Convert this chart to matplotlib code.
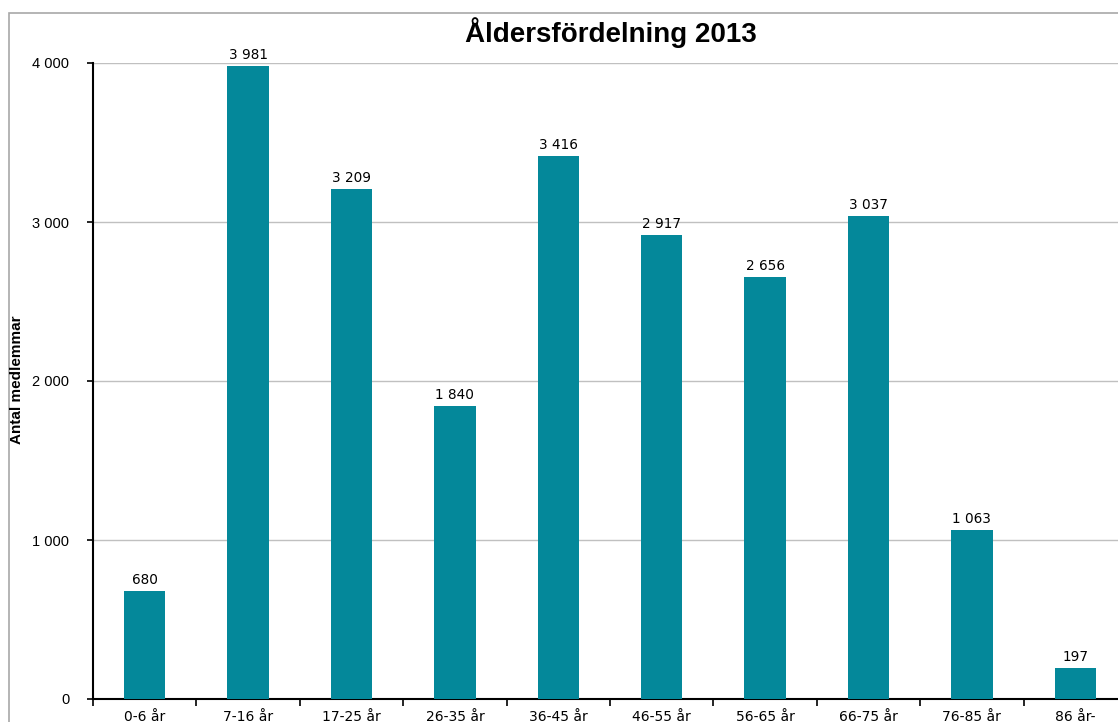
import matplotlib
matplotlib.use("Agg")
import matplotlib.pyplot as plt
from matplotlib.patches import Rectangle
from matplotlib.ticker import FixedLocator, FuncFormatter

categories = ["0-6 år", "7-16 år", "17-25 år", "26-35 år", "36-45 år",
              "46-55 år", "56-65 år", "66-75 år", "76-85 år", "86 år-"]
values = [680, 3981, 3209, 1840, 3416, 2917, 2656, 3037, 1063, 197]
yticks = [0, 1000, 2000, 3000, 4000]

def fmt(v):
    return f"{int(v):,}".replace(",", " ")

W, H = 1118, 722
fig = plt.figure(figsize=(W / 100, H / 100), dpi=100)
fig.patches.append(Rectangle((9 / W, -0.1), 1.2, 1 - 13 / H + 0.1, transform=fig.transFigure,
                             fill=False, edgecolor="#a8a8a8", linewidth=1.2))

ax = fig.add_axes([93 / W, 1 - 699 / H, (1127 - 93) / W, (699 - 63) / H])
x = list(range(len(categories)))
ax.bar(x, values, width=0.4, color="#04889a", zorder=3)
ax.set_xlim(-0.5, len(categories) - 0.5)
ax.set_ylim(0, 4000)

ax.yaxis.set_major_locator(FixedLocator(yticks))
ax.yaxis.set_major_formatter(FuncFormatter(lambda v, p: fmt(v)))
ax.grid(axis="y", color="#c0c0c0", linewidth=1, zorder=0)
ax.tick_params(axis="y", direction="out", length=4, width=1.2, pad=13,
               labelsize=10.5, labelfontfamily="Liberation Sans")

ax.xaxis.set_major_locator(FixedLocator([i - 0.5 for i in range(0, len(categories) + 1)]))
ax.xaxis.set_major_formatter(FuncFormatter(lambda v, p: ""))
ax.set_xticks(x, minor=True)
ax.set_xticklabels(categories, minor=True)
ax.tick_params(axis="x", which="major", direction="out", length=5, width=1.2)
ax.tick_params(axis="x", which="minor", length=0, pad=8, labelsize=10)

for s in ["top", "right"]:
    ax.spines[s].set_visible(False)
ax.spines["left"].set_linewidth(1.5)
ax.spines["bottom"].set_linewidth(1.5)

for xi, v in zip(x, values):
    ax.annotate(fmt(v), (xi, v), xytext=(0, 5), textcoords="offset points",
                ha="center", va="baseline", fontsize=9.8)

fig.text(611 / W, 1 - 42 / H, "Åldersfördelning 2013", ha="center", va="baseline",
         fontsize=20, fontweight="bold", family="Liberation Sans")
fig.text(17 / W, 1 - 380 / H, "Antal medlemmar", rotation=90, ha="center", va="center",
         fontsize=11, fontweight="bold", family="Liberation Sans")

fig.savefig("out.png", dpi=100)
